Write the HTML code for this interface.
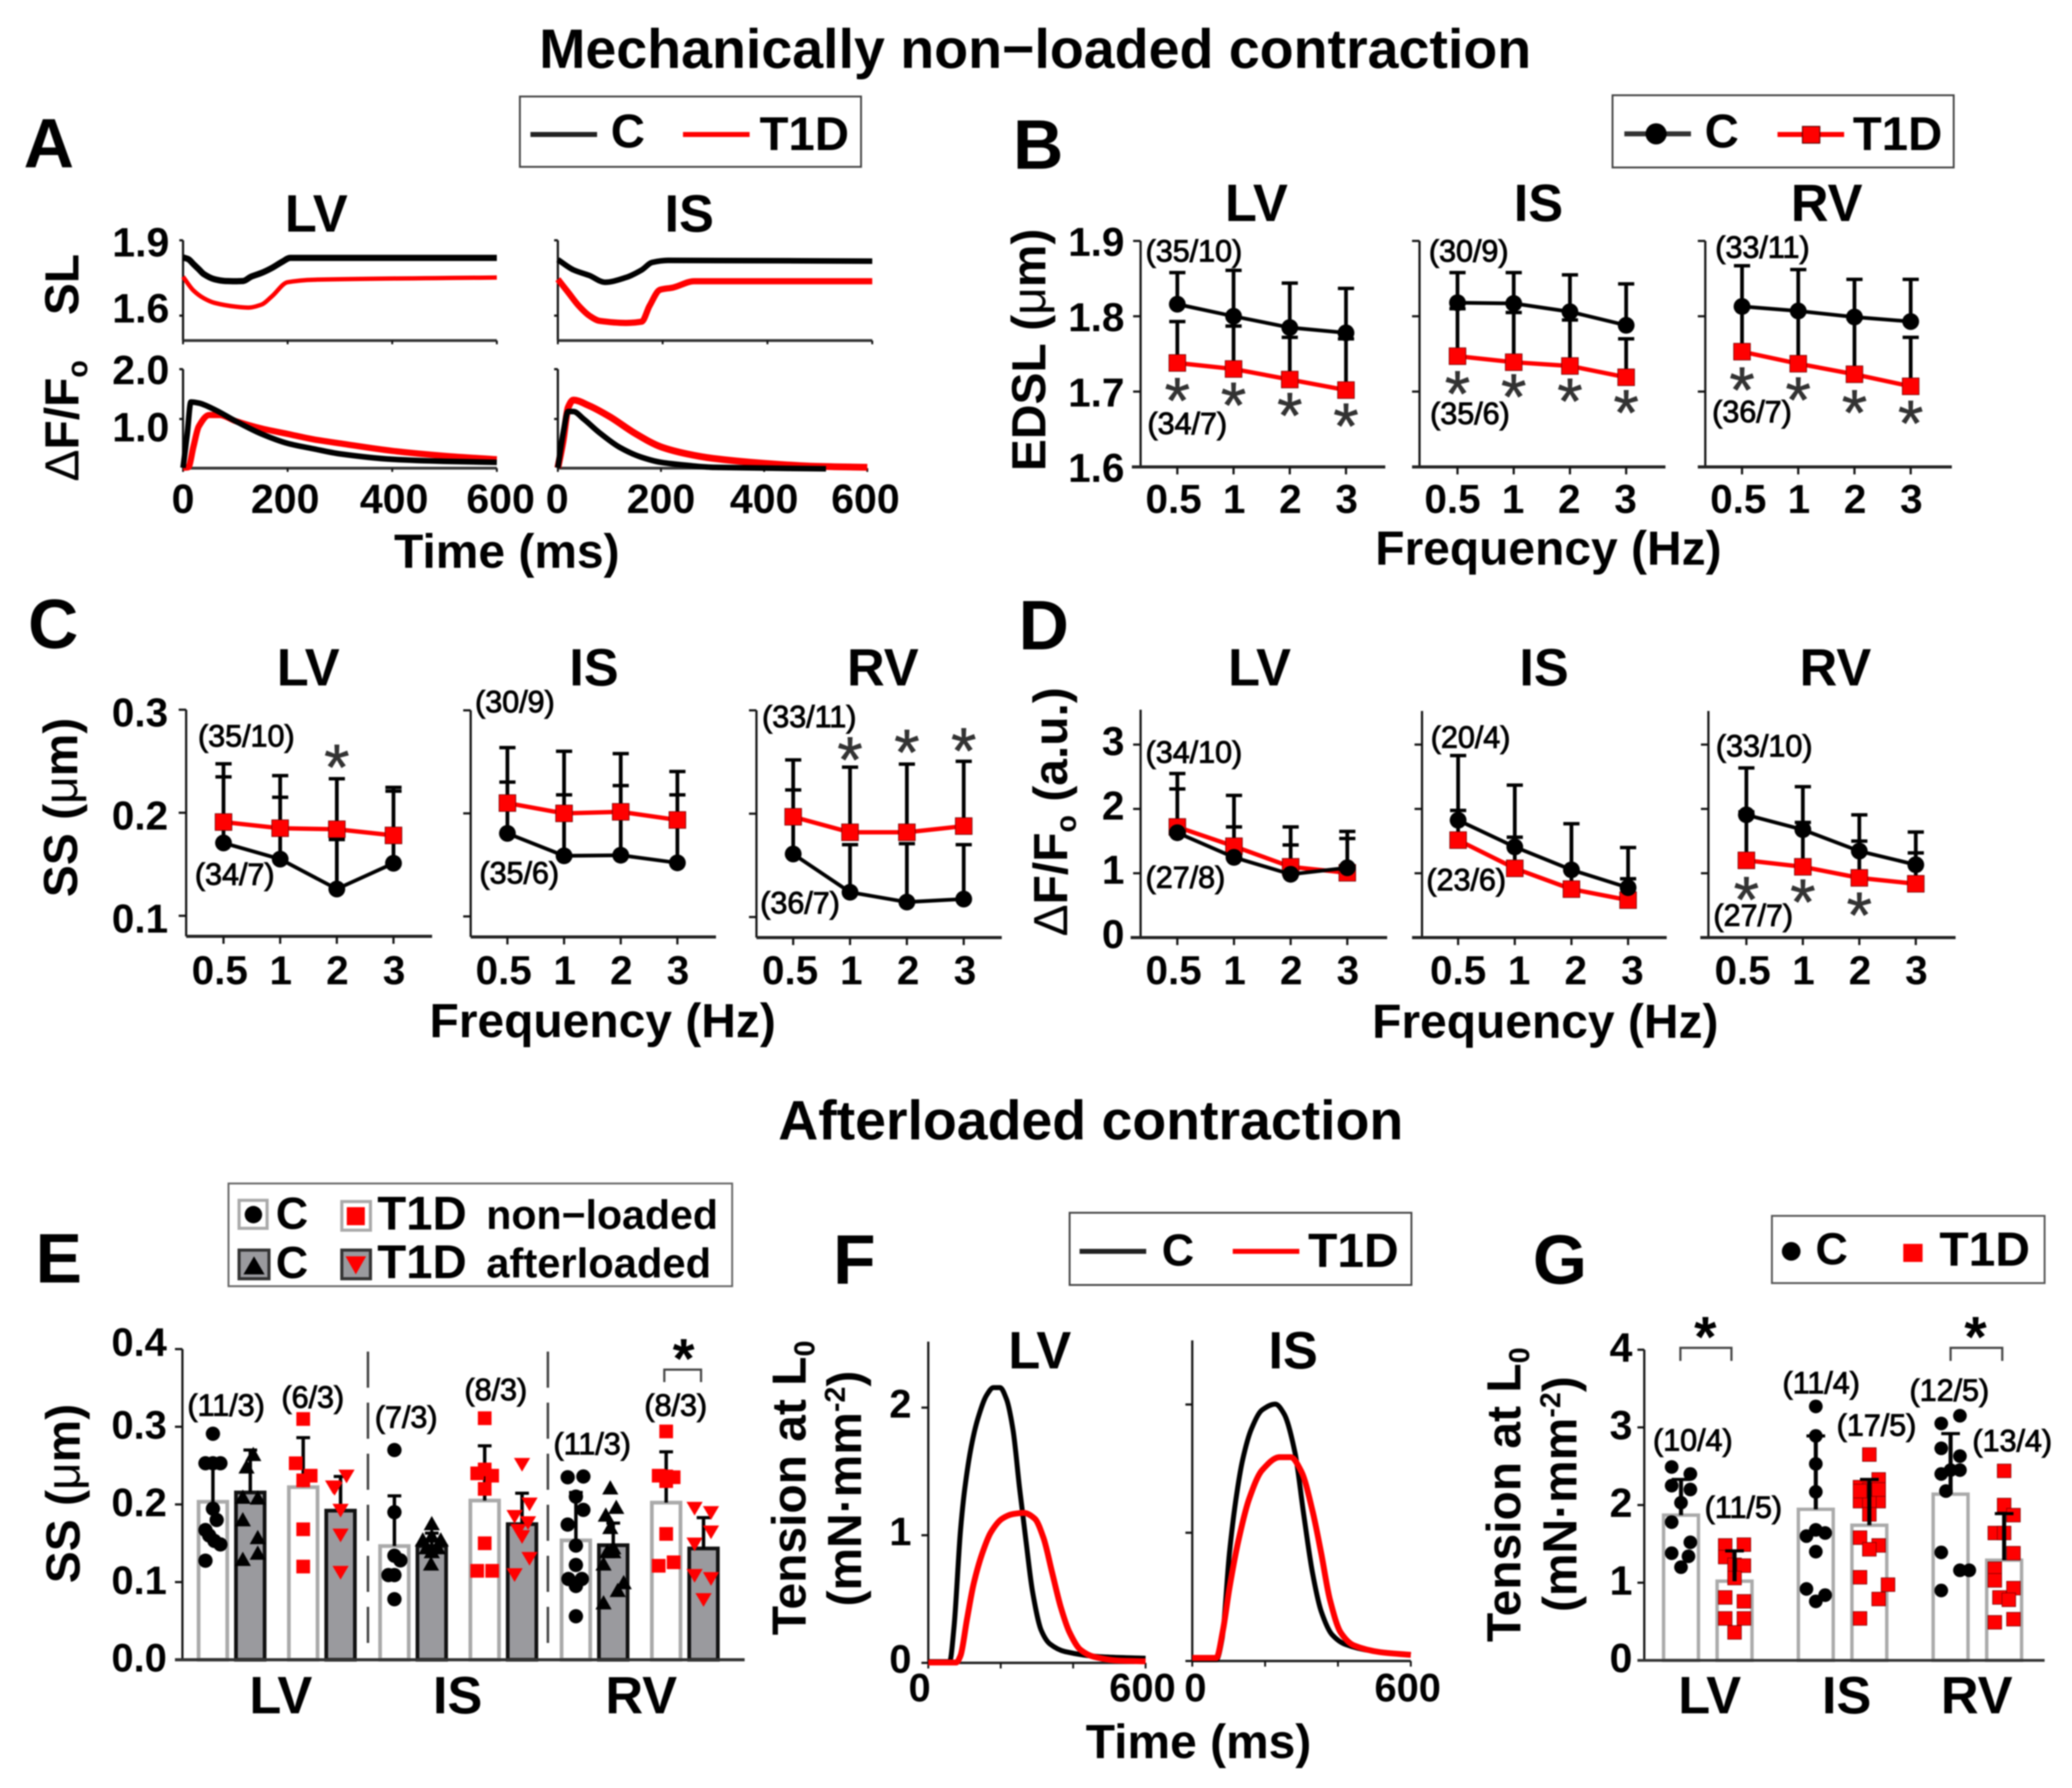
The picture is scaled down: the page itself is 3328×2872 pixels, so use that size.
<!DOCTYPE html>
<html lang="en">
<head>
<meta charset="utf-8">
<title>Mechanically non-loaded and afterloaded contraction</title>
<style>
html,body{margin:0;padding:0;background:#fff;}
svg{display:block;font-family:"Liberation Sans",sans-serif;font-weight:bold;fill:#000;filter:blur(1px);}
.note{font-weight:normal;font-size:49px;stroke:#000;stroke-width:1.4px;}
.tick{font-size:65px;}
.title{font-size:88px;}
.letter{font-size:112px;}
.sub{font-size:84px;}
.ax{font-size:77px;}
.thin{font-weight:normal;}
.leg{fill:#fff;stroke:#444;stroke-width:3;}
</style>
</head>
<body>
<svg id="fig" xmlns="http://www.w3.org/2000/svg" width="3328" height="2872" viewBox="0 0 3328 2872">
<rect x="0" y="0" width="3328" height="2872" fill="#fff"/>
<text class="title" x="866" y="109" style="font-size:89.2px">Mechanically non−loaded contraction</text>
<text class="title" x="1250" y="1830" style="font-size:89px">Afterloaded contraction</text>

<text class="letter" x="38" y="269">A</text>
<text class="letter" x="1627" y="271">B</text>
<text class="letter" x="45" y="1041">C</text>
<text class="letter" x="1636" y="1043">D</text>
<text class="letter" x="57" y="2060">E</text>
<text class="letter" x="1338" y="2062">F</text>
<text class="letter" x="2462" y="2062">G</text>

<!-- Legend A -->
<g>
<rect class="leg" x="835" y="155" width="548" height="113"/>
<line x1="852" x2="959" y1="216" y2="216" stroke="#222" stroke-width="8"/>
<text x="981" y="237" font-size="76">C</text>
<line x1="1097" x2="1204" y1="216" y2="216" stroke="#f00" stroke-width="8"/>
<text x="1220" y="241" font-size="76">T1D</text>
</g>
<!-- Legend B -->
<g>
<rect class="leg" x="2590" y="153" width="548" height="116"/>
<line x1="2609" x2="2716" y1="215" y2="215" stroke="#333" stroke-width="8"/>
<circle cx="2660" cy="215" r="17" fill="#000"/>
<text x="2738" y="237" font-size="76">C</text>
<line x1="2855" x2="2962" y1="216" y2="216" stroke="#f00" stroke-width="8"/>
<rect x="2895" y="203" width="28" height="27" fill="#f00" stroke="#500" stroke-width="1.5"/>
<text x="2976" y="241" font-size="76">T1D</text>
</g>
<!-- Legend E -->
<g>
<rect class="leg" x="367" y="1901" width="809" height="165" style="stroke:#666"/>
<rect x="384" y="1928" width="45" height="45" fill="#fff" stroke="#aaa" stroke-width="5"/>
<circle cx="407" cy="1951" r="14" fill="#000"/>
<text x="443" y="1974" font-size="72">C</text>
<rect x="549" y="1930" width="46" height="46" fill="#fff" stroke="#aaa" stroke-width="5"/>
<rect x="557" y="1939" width="29" height="29" fill="#f00"/>
<text x="606" y="1975" font-size="76">T1D</text>
<text x="781" y="1974" font-size="66">non−loaded</text>
<rect x="384" y="2008" width="48" height="46" fill="#9a9a9e" stroke="#333" stroke-width="5"/>
<polygon points="408,2018 391,2047 425,2047" fill="#000"/>
<text x="443" y="2053" font-size="72">C</text>
<rect x="549" y="2008" width="46" height="46" fill="#9a9a9e" stroke="#333" stroke-width="5"/>
<polygon points="555,2018 588,2018 571.5,2047" fill="#f00"/>
<text x="606" y="2053" font-size="76">T1D</text>
<text x="781" y="2052" font-size="67">afterloaded</text>
</g>
<!-- Legend F -->
<g>
<rect class="leg" x="1718" y="1948" width="549" height="116"/>
<line x1="1734" x2="1841" y1="2010" y2="2010" stroke="#222" stroke-width="8"/>
<text x="1866" y="2033" font-size="72">C</text>
<line x1="1980" x2="2087" y1="2010" y2="2010" stroke="#f00" stroke-width="8"/>
<text x="2101" y="2035" font-size="77">T1D</text>
</g>
<!-- Legend G -->
<g>
<rect class="leg" x="2846" y="1953" width="438" height="108" style="stroke:#555"/>
<circle cx="2877" cy="2010" r="15" fill="#000"/>
<text x="2916" y="2031" font-size="72">C</text>
<rect x="3057" y="1998" width="31" height="29" fill="#f00"/>
<text x="3115" y="2033" font-size="77">T1D</text>
</g>

<!-- Subplot titles -->
<g class="sub" text-anchor="middle">
<text x="508" y="372">LV</text>
<text x="1107" y="372">IS</text>
<text x="2018" y="355">LV</text>
<text x="2471" y="355">IS</text>
<text x="2934" y="355">RV</text>
<text x="495" y="1101">LV</text>
<text x="954" y="1101">IS</text>
<text x="1418" y="1101">RV</text>
<text x="2023" y="1101">LV</text>
<text x="2480" y="1101">IS</text>
<text x="2948" y="1101">RV</text>
<text x="1670" y="2198">LV</text>
<text x="2077" y="2198">IS</text>
<text x="451" y="2752">LV</text>
<text x="735" y="2752">IS</text>
<text x="1030" y="2752">RV</text>
<text x="2746" y="2752">LV</text>
<text x="2966" y="2752">IS</text>
<text x="3175" y="2752">RV</text>
</g>

<!-- Axis titles -->
<g class="ax" text-anchor="middle">
<text x="814" y="912">Time (ms)</text>
<text x="2487" y="907">Frequency (Hz)</text>
<text x="968" y="1666">Frequency (Hz)</text>
<text x="2482" y="1667">Frequency (Hz)</text>
<text x="1925" y="2824">Time (ms)</text>
<text transform="translate(126,457) rotate(-90)">SL</text>
<text transform="translate(126,676) rotate(-90)"><tspan class="thin">Δ</tspan>F/F<tspan dy="14" font-size="46">o</tspan></text>
<text transform="translate(1679,562) rotate(-90)">EDSL (<tspan class="thin">μ</tspan>m)</text>
<text transform="translate(124,1297) rotate(-90)">SS (<tspan class="thin">μ</tspan>m)</text>
<text transform="translate(1714,1304) rotate(-90)"><tspan class="thin">Δ</tspan>F/F<tspan dy="14" font-size="46">o</tspan><tspan dy="-14"> (a.u.)</tspan></text>
<text transform="translate(128,2399) rotate(-90)">SS (<tspan class="thin">μ</tspan>m)</text>
<text transform="translate(1294,2390) rotate(-90)">Tension at L<tspan dy="14" font-size="46">0</tspan></text>
<text transform="translate(1383,2391) rotate(-90)">(mN·mm<tspan dy="-26" font-size="46">-2</tspan><tspan dy="26">)</tspan></text>
<text transform="translate(2442,2401) rotate(-90)">Tension at L<tspan dy="14" font-size="46">0</tspan></text>
<text transform="translate(2532,2400) rotate(-90)">(mN·mm<tspan dy="-26" font-size="46">-2</tspan><tspan dy="26">)</tspan></text>
</g>

<!-- Sample-size notes -->
<g id="marks"></g>
<g class="note">
<text x="1840" y="420">(35/10)</text>
<text x="1843" y="697">(34/7)</text>
<text x="2295" y="420">(30/9)</text>
<text x="2297" y="681">(35/6)</text>
<text x="2755" y="414">(33/11)</text>
<text x="2750" y="678">(36/7)</text>
<text x="318" y="1199">(35/10)</text>
<text x="313" y="1421">(34/7)</text>
<text x="763" y="1144">(30/9)</text>
<text x="770" y="1419">(35/6)</text>
<text x="1224" y="1168">(33/11)</text>
<text x="1221" y="1467">(36/7)</text>
<text x="1840" y="1225">(34/10)</text>
<text x="1840" y="1426">(27/8)</text>
<text x="2298" y="1201">(20/4)</text>
<text x="2291" y="1430">(23/6)</text>
<text x="2756" y="1215">(33/10)</text>
<text x="2752" y="1487">(27/7)</text>
<text x="301" y="2274">(11/3)</text>
<text x="452" y="2261">(6/3)</text>
<text x="602" y="2293">(7/3)</text>
<text x="746" y="2249">(8/3)</text>
<text x="889" y="2336">(11/3)</text>
<text x="1035" y="2274">(8/3)</text>
<text x="2655" y="2330">(10/4)</text>
<text x="2738" y="2438">(11/5)</text>
<text x="2863" y="2238">(11/4)</text>
<text x="2950" y="2306">(17/5)</text>
<text x="3067" y="2250">(12/5)</text>
<text x="3168" y="2331">(13/4)</text>
</g>
</svg>

<script>
// ---------- Shared categories / tick labels ----------
const freqLabels = ['0.5', '1', '2', '3'];
const timeTicks = [0, 200, 400, 600];
const timeTickLabels = ['0', '200', '400', '600'];

// ---------- Panel A: sarcomere length traces (time in ms, SL in um) ----------
const aTicksSl = [1.6, 1.9];
const aTickLabelsSl = ['1.6', '1.9'];
const aTicksDf = [1, 2];
const aTickLabelsDf = ['1.0', '2.0'];
const aSlLvCT = [0, 10, 20, 30, 40, 60, 80, 100, 115, 130, 150, 170, 190, 205, 250, 600];
const aSlLvCV = [1.832, 1.825, 1.805, 1.785, 1.765, 1.745, 1.738, 1.737, 1.738, 1.755, 1.77, 1.79, 1.815, 1.83, 1.83, 1.83];
const aSlLvTT = [0, 20, 40, 60, 100, 125, 150, 170, 200, 250, 600];
const aSlLvTV = [1.755, 1.70, 1.669, 1.651, 1.636, 1.632, 1.644, 1.677, 1.733, 1.743, 1.752];
const aSlIsCT = [0, 30, 60, 90, 130, 160, 180, 210, 600];
const aSlIsCV = [1.823, 1.782, 1.76, 1.733, 1.752, 1.782, 1.812, 1.82, 1.817];
const aSlIsTT = [0, 20, 40, 60, 80, 130, 160, 175, 195, 220, 260, 600];
const aSlIsTV = [1.745, 1.692, 1.639, 1.60, 1.579, 1.571, 1.576, 1.639, 1.703, 1.712, 1.737, 1.737];
const aDfLvCT = [0, 8, 15, 30, 60, 100, 150, 200, 250, 300, 400, 500, 600];
const aDfLvCV = [0.02, 0.7, 1.34, 1.32, 1.19, 0.96, 0.7, 0.51, 0.4, 0.3, 0.19, 0.15, 0.13];
const aDfLvTT = [0, 10, 20, 30, 50, 70, 100, 150, 200, 250, 300, 400, 500, 600];
const aDfLvTV = [0.02, 0.03, 0.45, 0.85, 1.08, 1.08, 0.96, 0.81, 0.7, 0.59, 0.51, 0.36, 0.26, 0.19];
const aDfIsCT = [0, 10, 20, 30, 50, 80, 120, 160, 200, 250, 300, 520];
const aDfIsCV = [0.02, 0.7, 1.15, 1.15, 1.0, 0.73, 0.43, 0.24, 0.13, 0.07, 0.03, 0.0];
const aDfIsTT = [0, 10, 20, 30, 60, 100, 150, 200, 250, 300, 400, 500, 600];
const aDfIsTV = [0.02, 0.55, 1.23, 1.38, 1.27, 1.05, 0.71, 0.44, 0.3, 0.21, 0.11, 0.05, 0.03];

// ---------- Panel B: EDSL vs frequency ----------
const bTicks = [1.6, 1.7, 1.8, 1.9];
const bTickLabels = ['1.6', '1.7', '1.8', '1.9'];
const bLvC = [1.816, 1.80, 1.785, 1.778];
const bLvCErr = [1.858, 1.861, 1.844, 1.837];
const bLvT = [1.738, 1.730, 1.716, 1.702];
const bLvTErr = [1.793, 1.787, 1.772, 1.77];
const bLvStars = [1.70, 1.694, 1.68, 1.666];
const bIsC = [1.818, 1.817, 1.806, 1.788];
const bIsCErr = [1.858, 1.858, 1.855, 1.843];
const bIsT = [1.747, 1.739, 1.734, 1.719];
const bIsTErr = [1.81, 1.805, 1.795, 1.77];
const bIsStars = [1.709, 1.705, 1.699, 1.684];
const bRvC = [1.813, 1.807, 1.799, 1.793];
const bRvCErr = [1.867, 1.862, 1.849, 1.849];
const bRvT = [1.753, 1.737, 1.723, 1.707];
const bRvTErr = [1.812, 1.808, 1.797, 1.772];
const bRvStars = [1.714, 1.701, 1.684, 1.67];

// ---------- Panel C: SS vs frequency ----------
const cTicks = [0.1, 0.2, 0.3];
const cTickLabels = ['0.1', '0.2', '0.3'];
const cLvC = [0.1707, 0.155, 0.126, 0.151];
const cLvCErr = [0.2348, 0.215, 0.174, 0.221];
const cLvT = [0.191, 0.185, 0.184, 0.178];
const cLvTErr = [0.2475, 0.236, 0.233, 0.2246];
const cLvStars = [null, null, 0.2528, null];
const cIsC = [0.1806, 0.1588, 0.1594, 0.152];
const cIsCErr = [0.2304, 0.218, 0.227, 0.218];
const cIsT = [0.21, 0.2, 0.2015, 0.1936];
const cIsTErr = [0.2638, 0.2603, 0.258, 0.2406];
const cIsStars = [null, null, null, null];
const cRvC = [0.161, 0.124, 0.1145, 0.1174];
const cRvCErr = [0.223, 0.170, 0.171, 0.170];
const cRvT = [0.197, 0.182, 0.182, 0.188];
const cRvTErr = [0.252, 0.245, 0.248, 0.2507];
const cRvStars = [null, 0.2609, 0.2681, 0.2696];

// ---------- Panel D: Ca transient amplitude vs frequency ----------
const dTicks = [0, 1, 2, 3];
const dTickLabels = ['0', '1', '2', '3'];
const dLvC = [1.63, 1.247, 0.984, 1.085];
const dLvCErr = [2.55, 2.21, 1.72, 1.65];
const dLvT = [1.72, 1.42, 1.10, 1.007];
const dLvTErr = [2.31, 1.72, 1.44, 1.54];
const dLvStars = [null, null, null, null];
const dIsC = [1.824, 1.409, 1.053, 0.776];
const dIsCErr = [2.83, 2.37, 1.77, 1.40];
const dIsT = [1.515, 1.076, 0.753, 0.582];
const dIsTErr = [1.977, 1.56, 1.05, 0.915];
const dIsStars = [null, null, null, null];
const dRvC = [1.908, 1.677, 1.344, 1.132];
const dRvCErr = [2.637, 2.346, 1.908, 1.64];
const dRvT = [1.20, 1.10, 0.928, 0.836];
const dRvTErr = [1.954, 1.79, 1.50, 1.316];
const dRvStars = [0.73, 0.693, 0.49, null];

// ---------- Panel E: SS bars, non-loaded vs afterloaded ----------
const eTicks = [0, 0.1, 0.2, 0.3, 0.4];
const eTickLabels = ['0.0', '0.1', '0.2', '0.3', '0.4'];
const eCNonMean = [0.2034, 0.1464, 0.1537];
const eCAftMean = [0.2154, 0.1464, 0.1475];
const eTNonMean = [0.2222, 0.205, 0.2023];
const eTAftMean = [0.192, 0.1746, 0.1433];
const eCNonErr = [0.257, 0.211, 0.2154];
const eCAftErr = [0.270, 0.163, 0.176];
const eTNonErr = [0.286, 0.2755, 0.2677];
const eTAftErr = [0.236, 0.2144, 0.183];
const eLvCNon = [0.291, 0.253, 0.253, 0.253, 0.1945, 0.18, 0.167, 0.16, 0.153, 0.1485, 0.1276];
const eLvCNonCol = [0, -1, 1, 0, 0, 0.5, -1, -0.5, 0.2, 1, -1];
const eLvCAft = [0.265, 0.249, 0.21, 0.209, 0.181, 0.158, 0.138, 0.13];
const eLvCAftCol = [0.4, -0.5, -1, 1, -1, 1, 1, -1];
const eLvTNon = [0.31, 0.253, 0.237, 0.231, 0.168, 0.12];
const eLvTNonCol = [0, -1, 1, 0, 0, 0];
const eLvTAft = [0.236, 0.222, 0.22, 0.192, 0.16, 0.112];
const eLvTAftCol = [0.8, -1, -0.8, 0, 0, 0];
const eIsCNon = [0.27, 0.19, 0.134, 0.128, 0.109, 0.109, 0.078];
const eIsCNonCol = [0, 0, 0, 0.8, -0.8, 0, 0];
const eIsCAft = [0.176, 0.155, 0.155, 0.16, 0.145, 0.145, 0.14, 0.124];
const eIsCAftCol = [0, -1.2, 1.2, 0, -0.7, 0.8, 0, -0.1];
const eIsTNon = [0.311, 0.24, 0.237, 0.245, 0.22, 0.15, 0.1145, 0.1145];
const eIsTNonCol = [0, -1, 1, 0, 0, 0, -1, 1];
const eIsTAft = [0.251, 0.2, 0.184, 0.176, 0.166, 0.158, 0.13, 0.109];
const eIsTAftCol = [0, 1, -1, 0.8, -0.5, 0, 1, -1];
const eRvCNon = [0.235, 0.236, 0.21, 0.193, 0.174, 0.147, 0.122, 0.104, 0.104, 0.095, 0.056];
const eRvCNonCol = [-1.1, 1, 0, 1, -1.1, 0, 0, -1, 0.8, 0, 0];
const eRvCAft = [0.222, 0.197, 0.187, 0.171, 0.14, 0.14, 0.124, 0.1, 0.09, 0.074, 0.145];
const eRvCAftCol = [-0.4, 0.4, -1, -0.4, -0.8, 0, -1.3, 1.4, 0.6, -1.3, 0];
const eRvTNon = [0.294, 0.237, 0.235, 0.23, 0.236, 0.162, 0.121, 0.1255];
const eRvTNonCol = [0, -1, 1, 0, 0, 0, -1, 1];
const eRvTAft = [0.1945, 0.189, 0.164, 0.1485, 0.108, 0.104, 0.077];
const eRvTAftCol = [-1.2, 1, 1, -1.2, -1.2, 1, 0];

// ---------- Panel F: tension traces ----------
const fTicks = [0, 1, 2];
const fTickLabels = ['0', '1', '2'];
const fLvCT = [0, 59, 71, 89, 101, 119, 137, 161, 180, 198, 216, 234, 252, 270, 288, 312, 336, 378, 475, 600];
const fLvCV = [0.01, 0.01, 0.28, 1.04, 1.37, 1.70, 1.915, 2.097, 2.157, 2.157, 2.066, 1.825, 1.37, 0.95, 0.556, 0.254, 0.148, 0.088, 0.048, 0.036];
const fLvTT = [0, 77, 89, 107, 125, 149, 173, 204, 234, 264, 294, 318, 342, 366, 390, 420, 457, 523, 600];
const fLvTV = [0.003, 0.003, 0.057, 0.344, 0.616, 0.858, 1.024, 1.13, 1.166, 1.175, 1.13, 0.98, 0.707, 0.435, 0.239, 0.103, 0.048, 0.018, 0.012];
const fIsCT = [0, 66, 82, 102, 120, 138, 162, 192, 228, 252, 282, 306, 330, 354, 384, 420, 492, 600];
const fIsCV = [0.01, 0.01, 0.175, 0.84, 1.263, 1.565, 1.807, 1.958, 2.003, 1.927, 1.625, 1.142, 0.689, 0.387, 0.205, 0.13, 0.079, 0.048];
const fIsTT = [0, 66, 84, 102, 126, 156, 192, 240, 270, 300, 330, 354, 378, 408, 444, 516, 600];
const fIsTV = [0.024, 0.024, 0.236, 0.568, 0.93, 1.263, 1.489, 1.589, 1.589, 1.474, 1.172, 0.84, 0.477, 0.22, 0.121, 0.069, 0.048];

// ---------- Panel G: tension bars ----------
const gTicks = [0, 1, 2, 3, 4];
const gTickLabels = ['0', '1', '2', '3', '4'];
const gCMean = [1.87, 1.945, 2.14];
const gTMean = [1.02, 1.74, 1.29];
const gCErr = [2.33, 2.89, 2.92];
const gTErr = [1.41, 2.33, 1.89];
const gLvC = [2.49, 2.40, 2.25, 2.2, 2.03, 1.78, 1.52, 1.38, 1.34, 1.2];
const gLvCCol = [-1, 1, -1, 1, 0, -1, 1, -1, 0.8, 0];
const gLvT = [1.48, 1.49, 1.33, 1.23, 1.22, 1.06, 0.81, 0.76, 0.54, 0.54, 0.36];
const gLvTCol = [-1, 1, -1, 0, 1, 0, -1, 1, -1, 1, 0];
const gIsC = [3.27, 2.89, 2.53, 2.17, 1.6, 1.68, 1.64, 1.4, 0.92, 0.84, 0.76];
const gIsCCol = [0, 0, 0, 0, -1, 0, 1, 0, -1, 1, 0];
const gIsT = [2.65, 2.33, 2.23, 2.2, 2.05, 2.05, 2.03, 1.88, 1.58, 1.48, 1.43, 1.07, 0.975, 0.79, 0.54, 2.18, 2.2];
const gIsTCol = [0, 1, -1, 0, 1, -1, 0, 0, -1, 1, 0, -1, 2, 1, -1, -1, 1];
const gRvC = [3.15, 3.05, 2.73, 2.63, 2.4, 2.45, 2.45, 2.18, 1.39, 1.16, 1.16, 0.9];
const gRvCCol = [1, -1, -1, 1, -1, 0, 1, -0.5, -1, 1, 2, -1];
const gRvT = [2.44, 2.0, 1.87, 1.64, 1.64, 1.38, 1.18, 1.03, 0.93, 0.81, 0.78, 0.49, 0.53];
const gRvTCol = [0, 0, 1, -1, 0, 1, -1, -1, 1, -0.5, 0.5, -1, 1];

// ---------- Drawing helpers ----------
const NS = 'http://www.w3.org/2000/svg';
const root = document.getElementById('marks');
function mk(tag, attrs, name, parent) {
  const el = document.createElementNS(NS, tag);
  for (const k in attrs) el.setAttribute(k, attrs[k]);
  
  
  (parent || root).appendChild(el);
  return el;
}
function linear(v0, p0, v1, p1) {
  return function (v) { return p0 + (v - v0) * (p1 - p0) / (v1 - v0); };
}
function line(x1, y1, x2, y2, color, w, name, parent) {
  return mk('line', { x1: x1, y1: y1, x2: x2, y2: y2, stroke: color, 'stroke-width': w }, name, parent);
}
function label(x, y, str, size, anchor, name, parent) {
  const t = mk('text', { x: x, y: y, 'font-size': size, 'text-anchor': anchor }, name, parent);
  t.textContent = str;
  return t;
}
function circle(x, y, r, name, parent) {
  return mk('circle', { cx: x, cy: y, r: r, fill: '#000' }, name, parent);
}
function square(x, y, s, name, parent) {
  return mk('rect', { x: x - s / 2, y: y - s / 2, width: s, height: s, fill: '#f00', stroke: '#600', 'stroke-width': 1 }, name, parent);
}
function triangle(x, y, w, h, up, color, name, parent) {
  const p = up
    ? [[x, y - h / 2], [x - w / 2, y + h / 2], [x + w / 2, y + h / 2]]
    : [[x - w / 2, y - h / 2], [x + w / 2, y - h / 2], [x, y + h / 2]];
  return mk('polygon', { points: p.map(function (q) { return q.join(','); }).join(' '), fill: color }, name, parent);
}
// Monotone cubic path through the mapped data points (no overshoot)
function monotonePath(xs, ys) {
  const n = xs.length;
  const d = [];
  for (let i = 0; i < n - 1; i++) d.push((ys[i + 1] - ys[i]) / (xs[i + 1] - xs[i]));
  const m = [d[0]];
  for (let i = 1; i < n - 1; i++) {
    m.push(d[i - 1] * d[i] <= 0 ? 0 : 2 * d[i - 1] * d[i] / (d[i - 1] + d[i]));
  }
  m.push(d[n - 2]);
  let p = 'M' + xs[0] + ' ' + ys[0];
  for (let i = 0; i < n - 1; i++) {
    const h = (xs[i + 1] - xs[i]) / 3;
    p += 'C' + (xs[i] + h) + ' ' + (ys[i] + m[i] * h) + ' ' + (xs[i + 1] - h) + ' ' + (ys[i + 1] - m[i + 1] * h) + ' ' + xs[i + 1] + ' ' + ys[i + 1];
  }
  return p;
}
function trace(ts, vs, sx, sy, color, w, name, parent) {
  const d = monotonePath(ts.map(sx), vs.map(sy));
  return mk('path', { d: d, fill: 'none', stroke: color, 'stroke-width': w, 'stroke-linejoin': 'round' }, name, parent);
}
function yAxis(x, top, bottom, ticks, sy, labels, labelX, dy, size, tickLen, name, parent) {
  line(x, top, x, bottom, '#111', 3.5, name + '-y-axis', parent);
  ticks.forEach(function (v, i) {
    line(x - tickLen, sy(v), x, sy(v), '#111', 3.5, name + '-y-tick', parent);
    if (labels) label(labelX, sy(v) + (typeof dy === 'function' ? dy(i) : dy), labels[i], size, 'end', name + '-y-tick-label', parent);
  });
}

// Frequency panels (B, C, D)
function freqPanel(o) {
  const g = mk('g', {}, o.name);
  const sx = function (i) { return o.x0 + i * o.step; };
  yAxis(o.axisX, o.top, o.bottom, o.ticks, o.sy, o.labels, o.labelX, o.dy, 65, 12, o.name, g);
  line(o.axisStart, o.bottom, o.axisEnd, o.bottom, '#222', 5, o.name + '-x-axis', g);
  freqLabels.forEach(function (lab, i) {
    line(sx(i), o.bottom, sx(i), o.bottom + 12, '#111', 3.5, o.name + '-x-tick', g);
    label(sx(i) + (i === 0 ? -6 : 1) + (o.labelShift || 0), o.tickY, lab, 65, 'middle', o.name + '-x-tick-label', g);
  });
  // error bars
  o.cErr.forEach(function (e, i) {
    line(sx(i), o.sy(o.c[i]), sx(i), o.sy(e), '#000', 6, o.name + '-error-c', g);
    line(sx(i) - 13, o.sy(e), sx(i) + 13, o.sy(e), '#000', 5.5, o.name + '-error-cap-c', g);
  });
  o.tErr.forEach(function (e, i) {
    line(sx(i), o.sy(o.t[i]), sx(i), o.sy(e), '#000', 6, o.name + '-error-t1d', g);
    line(sx(i) - 13, o.sy(e), sx(i) + 13, o.sy(e), '#000', 5.5, o.name + '-error-cap-t1d', g);
  });
  // T1D series
  const tPts = o.t.map(function (v, i) { return sx(i) + ',' + o.sy(v); }).join(' ');
  mk('polyline', { points: tPts, fill: 'none', stroke: '#f00', 'stroke-width': 7 }, o.name + '-line-t1d', g);
  o.t.forEach(function (v, i) { square(sx(i), o.sy(v), 27, o.name + '-point-t1d', g); });
  // C series
  const cPts = o.c.map(function (v, i) { return sx(i) + ',' + o.sy(v); }).join(' ');
  mk('polyline', { points: cPts, fill: 'none', stroke: '#000', 'stroke-width': 6 }, o.name + '-line-c', g);
  o.c.forEach(function (v, i) { circle(sx(i), o.sy(v), 13.5, o.name + '-point-c', g); });
  // significance stars
  o.stars.forEach(function (v, i) {
    if (v === null) return;
    const t = mk('text', { x: sx(i), y: o.sy(v) + 50, 'font-size': 104, 'text-anchor': 'middle', fill: '#333', stroke: '#333', 'stroke-width': 1, 'font-weight': 'normal' }, o.name + '-star', g);
    t.textContent = '*';
  });
}

// ---------- Panel A ----------
function tracePanel(o) {
  const g = mk('g', {}, o.name);
  const sx = linear(0, o.x0, 600, o.x1);
  yAxis(o.x0, o.top, o.bottom, o.ticks, o.sy, o.labels, 272, o.dy, 66, 6, o.name, g);
  line(o.x0, o.bottom, o.x1, o.bottom, '#333', 4.5, o.name + '-x-axis', g);
  timeTicks.forEach(function (t, i) {
    line(sx(t), o.bottom, sx(t), o.bottom + 6, '#111', 3, o.name + '-x-tick', g);
    if (o.tickY) label(sx(t) + (o.nudge ? o.nudge(i) : 0), o.tickY, timeTickLabels[i], 66, 'middle', o.name + '-x-tick-label', g);
  });
  trace(o.tT, o.tV, sx, o.sy, '#f00', o.wT, o.name + '-trace-t1d', g);
  trace(o.cT, o.cV, sx, o.sy, '#000', o.wC, o.name + '-trace-c', g);
}
const aSySl = linear(1.6, 507, 1.9, 386);
const aSyDf = linear(1, 673, 2, 593);
tracePanel({ name: 'a-lv-sl', x0: 294, x1: 798, top: 386, bottom: 547, ticks: aTicksSl, labels: aTickLabelsSl, dy: function (i) { return i === 0 ? 11 : 26; }, sy: aSySl, cT: aSlLvCT, cV: aSlLvCV, tT: aSlLvTT, tV: aSlLvTV, wC: 10, wT: 7 });
tracePanel({ name: 'a-is-sl', x0: 896, x1: 1401, top: 386, bottom: 547, ticks: aTicksSl, labels: null, dy: 25, sy: aSySl, cT: aSlIsCT, cV: aSlIsCV, tT: aSlIsTT, tV: aSlIsTV, wC: 9, wT: 10 });
tracePanel({ name: 'a-lv-df', x0: 294, x1: 798, top: 593, bottom: 752, ticks: aTicksDf, labels: aTickLabelsDf, dy: function (i) { return i === 0 ? 36 : 24; }, sy: aSyDf, cT: aDfLvCT, cV: aDfLvCV, tT: aDfLvTT, tV: aDfLvTV, wC: 9, wT: 10, tickY: 824, nudge: function (i) { return i === 0 ? 0 : i === 1 ? -4 : i === 2 ? 3 : 6; } });
tracePanel({ name: 'a-is-df', x0: 896, x1: 1393, top: 593, bottom: 752, ticks: aTicksDf, labels: null, dy: 24, sy: aSyDf, cT: aDfIsCT, cV: aDfIsCV, tT: aDfIsTT, tV: aDfIsTV, wC: 9, wT: 11, tickY: 824, nudge: function (i) { return i === 0 ? -1 : i === 3 ? -3 : 0; } });

// ---------- Panel B ----------
const bSy = linear(1.6, 750, 1.9, 387);
freqPanel({ name: 'b-lv', x0: 1891, step: 90.3, axisX: 1832, axisStart: 1818, axisEnd: 2225, top: 387, bottom: 750, ticks: bTicks, labels: bTickLabels, labelX: 1806, dy: 24, sy: bSy, tickY: 824, c: bLvC, cErr: bLvCErr, t: bLvT, tErr: bLvTErr, stars: bLvStars });
freqPanel({ name: 'b-is', x0: 2341, step: 90.3, axisX: 2280, axisStart: 2268, axisEnd: 2675, top: 387, bottom: 750, ticks: bTicks, labels: null, sy: bSy, tickY: 824, labelShift: -2, c: bIsC, cErr: bIsCErr, t: bIsT, tErr: bIsTErr, stars: bIsStars });
freqPanel({ name: 'b-rv', x0: 2798, step: 90.3, axisX: 2739, axisStart: 2727, axisEnd: 3135, top: 387, bottom: 750, ticks: bTicks, labels: null, sy: bSy, tickY: 824, c: bRvC, cErr: bRvCErr, t: bRvT, tErr: bRvTErr, stars: bRvStars });

// ---------- Panel C ----------
freqPanel({ name: 'c-lv', x0: 359, step: 91, axisX: 299, axisStart: 299, axisEnd: 694, top: 1140, bottom: 1504, ticks: cTicks, labels: cTickLabels, labelX: 270, dy: 27, sy: linear(0.1, 1471, 0.3, 1140), tickY: 1581, c: cLvC, cErr: cLvCErr, t: cLvT, tErr: cLvTErr, stars: cLvStars });
freqPanel({ name: 'c-is', x0: 815, step: 91, axisX: 756, axisStart: 756, axisEnd: 1150, top: 1141, bottom: 1505, ticks: cTicks, labels: null, sy: linear(0.1, 1472, 0.3, 1141), tickY: 1581, c: cIsC, cErr: cIsCErr, t: cIsT, tErr: cIsTErr, stars: cIsStars });
freqPanel({ name: 'c-rv', x0: 1274, step: 91.3, axisX: 1215, axisStart: 1215, axisEnd: 1609, top: 1141, bottom: 1506, ticks: cTicks, labels: null, sy: linear(0.1, 1473, 0.3, 1141), tickY: 1581, labelShift: 1, c: cRvC, cErr: cRvCErr, t: cRvT, tErr: cRvTErr, stars: cRvStars });

// ---------- Panel D ----------
const dSy = linear(0, 1506, 3, 1196);
freqPanel({ name: 'd-lv', x0: 1891, step: 91, axisX: 1832, axisStart: 1816, axisEnd: 2228, top: 1140, bottom: 1506, ticks: dTicks, labels: dTickLabels, labelX: 1806, dy: 17, sy: dSy, tickY: 1581, c: dLvC, cErr: dLvCErr, t: dLvT, tErr: dLvTErr, stars: dLvStars });
freqPanel({ name: 'd-is', x0: 2342, step: 91, axisX: 2284, axisStart: 2268, axisEnd: 2677, top: 1142, bottom: 1506, ticks: dTicks, labels: null, sy: dSy, tickY: 1581, labelShift: 6, c: dIsC, cErr: dIsCErr, t: dIsT, tErr: dIsTErr, stars: dIsStars });
freqPanel({ name: 'd-rv', x0: 2805, step: 90.7, axisX: 2744, axisStart: 2731, axisEnd: 3141, top: 1142, bottom: 1506, ticks: dTicks, labels: null, sy: dSy, tickY: 1581, c: dRvC, cErr: dRvCErr, t: dRvT, tErr: dRvTErr, stars: dRvStars });

// ---------- Panel E ----------
(function () {
  const g = mk('g', {}, 'panel-e');
  const sy = linear(0, 2666, 0.4, 2167);
  const cx = function (grp, i) { return 342 + grp * 291.5 + i * 60 + (i >= 2 ? 25 : 0); };
  const groupNames = ['lv', 'is', 'rv'];
  const means = [eCNonMean, eCAftMean, eTNonMean, eTAftMean];
  const errs = [eCNonErr, eCAftErr, eTNonErr, eTAftErr];
  const condNames = ['c-nonloaded', 'c-afterloaded', 't1d-nonloaded', 't1d-afterloaded'];
  const points = [
    [[eLvCNon, eLvCNonCol], [eLvCAft, eLvCAftCol], [eLvTNon, eLvTNonCol], [eLvTAft, eLvTAftCol]],
    [[eIsCNon, eIsCNonCol], [eIsCAft, eIsCAftCol], [eIsTNon, eIsTNonCol], [eIsTAft, eIsTAftCol]],
    [[eRvCNon, eRvCNonCol], [eRvCAft, eRvCAftCol], [eRvTNon, eRvTNonCol], [eRvTAft, eRvTAftCol]]
  ];
  groupNames.forEach(function (gn, gi) {
    means.forEach(function (m, ci) {
      const x = cx(gi, ci);
      const nonLoaded = ci === 0 || ci === 2;
      mk('rect', { x: x - 23, y: sy(m[gi]), width: 46, height: 2666 - sy(m[gi]), fill: nonLoaded ? '#fff' : '#9a9a9e', stroke: nonLoaded ? '#aaa' : '#111', 'stroke-width': 6 }, 'e-bar-' + gn + '-' + condNames[ci], g);
    });
  });
  yAxis(293, 2167, 2666, eTicks, sy, eTickLabels, 268, function (i) { return i === 4 ? 11 : 19; }, 64, 12, 'e', g);
  line(281, 2666, 1196, 2666, '#333', 5, 'e-x-axis', g);
  mk('line', { x1: 591, y1: 2171, x2: 591, y2: 2648, stroke: '#444', 'stroke-width': 4, 'stroke-dasharray': '58 24' }, 'e-divider-lv-is', g);
  mk('line', { x1: 880, y1: 2171, x2: 880, y2: 2648, stroke: '#444', 'stroke-width': 4, 'stroke-dasharray': '58 24' }, 'e-divider-is-rv', g);
  groupNames.forEach(function (gn, gi) {
    errs.forEach(function (e, ci) {
      const x = cx(gi, ci);
      line(x, sy(means[ci][gi]), x, sy(e[gi]), '#000', 5.5, 'e-error-' + gn, g);
      line(x - 11, sy(e[gi]), x + 11, sy(e[gi]), '#000', 5, 'e-error-cap-' + gn, g);
    });
    points[gi].forEach(function (pair, ci) {
      pair[0].forEach(function (v, k) {
        const x = cx(gi, ci) + 12 * pair[1][k];
        const y = sy(v);
        const nm = 'e-point-' + gn + '-' + condNames[ci];
        if (ci === 0) circle(x, y, 11.5, nm, g);
        else if (ci === 1) triangle(x, y, 26, 23, true, '#000', nm, g);
        else if (ci === 2) mk('rect', { x: x - 11, y: y - 11, width: 22, height: 22, fill: '#f00' }, nm, g);
        else triangle(x, y, 26, 22, false, '#f00', nm, g);
      });
    });
  });
  mk('path', { d: 'M1067 2220V2200H1126V2220', fill: 'none', stroke: '#444', 'stroke-width': 3.5 }, 'e-significance-bracket', g);
  const s = mk('text', { x: 1098, y: 2213, 'font-size': 90, 'text-anchor': 'middle', fill: '#000' }, 'e-significance-star', g);
  s.textContent = '*';
})();

// ---------- Panel F ----------
function tensionPanel(o) {
  const g = mk('g', {}, o.name);
  const sx = linear(0, o.x0, 600, o.x1);
  yAxis(o.x0, o.top, o.bottom, fTicks, o.sy, o.labels, 1464, 16, 64, 11, o.name, g);
  line(o.x0, o.bottom, o.x1, o.bottom, '#222', 4, o.name + '-x-axis', g);
  timeTicks.forEach(function (t) {
    line(sx(t), o.bottom, sx(t), o.bottom + 9, '#111', 3, o.name + '-x-tick', g);
  });
  label(o.x0 + o.zeroDx, 2733, timeTickLabels[0], 64, 'middle', o.name + '-x-tick-label-0', g);
  label(o.x1 - 5, 2733, timeTickLabels[3], 64, 'middle', o.name + '-x-tick-label-600', g);
  trace(o.cT, o.cV, sx, o.sy, '#000', 8, o.name + '-trace-c', g);
  trace(o.tT, o.tV, sx, o.sy, '#f00', 9.5, o.name + '-trace-t1d', g);
}
tensionPanel({ name: 'f-lv', x0: 1491, x1: 1840, top: 2155, bottom: 2671, labels: fTickLabels, zeroDx: -14, sy: linear(0, 2671, 2, 2261), cT: fLvCT, cV: fLvCV, tT: fLvTT, tV: fLvTV });
tensionPanel({ name: 'f-is', x0: 1915, x1: 2266, top: 2153, bottom: 2668, labels: null, zeroDx: 5, sy: linear(0, 2668, 2, 2256), cT: fIsCT, cV: fIsCV, tT: fIsTT, tV: fIsTV });

// ---------- Panel G ----------
(function () {
  const g = mk('g', {}, 'panel-g');
  const sy = linear(0, 2667, 4, 2168);
  const cx = function (grp, i) { return 2700 + grp * 216.5 + i * 86; };
  const groupNames = ['lv', 'is', 'rv'];
  const means = [gCMean, gTMean];
  const errs = [gCErr, gTErr];
  const points = [
    [[gLvC, gLvCCol], [gLvT, gLvTCol]],
    [[gIsC, gIsCCol], [gIsT, gIsTCol]],
    [[gRvC, gRvCCol], [gRvT, gRvTCol]]
  ];
  groupNames.forEach(function (gn, gi) {
    means.forEach(function (m, ci) {
      const x = cx(gi, ci);
      mk('rect', { x: x - 28, y: sy(m[gi]), width: 56, height: 2667 - sy(m[gi]), fill: '#fff', stroke: '#aaa', 'stroke-width': 5.5 }, 'g-bar-' + gn + (ci ? '-t1d' : '-c'), g);
    });
  });
  yAxis(2641, 2168, 2667, gTicks, sy, gTickLabels, 2622, 19, 66, 11, 'g', g);
  line(2630, 2667, 3284, 2667, '#333', 4.5, 'g-x-axis', g);
  groupNames.forEach(function (gn, gi) {
    points[gi].forEach(function (pair, ci) {
      pair[0].forEach(function (v, k) {
        const x = cx(gi, ci) + 15 * pair[1][k];
        const y = sy(v);
        if (ci === 0) circle(x, y, 11, 'g-point-' + gn + '-c', g);
        else mk('rect', { x: x - 11, y: y - 11, width: 22, height: 22, fill: '#f00', stroke: '#700', 'stroke-width': 1 }, 'g-point-' + gn + '-t1d', g);
      });
    });
    errs.forEach(function (e, ci) {
      const x = cx(gi, ci);
      line(x, sy(means[ci][gi]), x, sy(e[gi]), '#000', 6.5, 'g-error-' + gn, g);
      line(x - 15, sy(e[gi]), x + 15, sy(e[gi]), '#000', 5, 'g-error-cap-' + gn, g);
    });
  });
  mk('path', { d: 'M2699 2186V2165H2781V2186', fill: 'none', stroke: '#444', 'stroke-width': 3.5 }, 'g-bracket-lv', g);
  mk('path', { d: 'M3133 2186V2165H3216V2186', fill: 'none', stroke: '#444', 'stroke-width': 3.5 }, 'g-bracket-rv', g);
  const s1 = mk('text', { x: 2739, y: 2179, 'font-size': 92, 'text-anchor': 'middle', fill: '#000' }, 'g-star-lv', g);
  s1.textContent = '*';
  const s2 = mk('text', { x: 3173, y: 2179, 'font-size': 92, 'text-anchor': 'middle', fill: '#000' }, 'g-star-rv', g);
  s2.textContent = '*';
})();
</script>
</body>
</html>
